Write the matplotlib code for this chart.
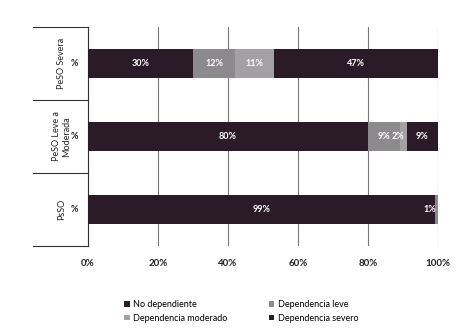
import matplotlib
matplotlib.use("Agg")
import matplotlib.pyplot as plt
import numpy as np

groups = ["PsSO", "PeSO Leve a\nModerada", "PeSO Severa"]
row_labels = ["%", "%", "%"]
series_names = ["No dependiente", "Dependencia leve", "Dependencia moderado", "Dependencia severo"]
no_dep = [99, 80, 30]
dep_leve = [1, 9, 12]
dep_mod = [0, 2, 11]
dep_sev = [0, 9, 47]
xticks = [0, 20, 40, 60, 80, 100]
xtick_labels = ["0%", "20%", "40%", "60%", "80%", "100%"]

colors = ["#2b1b29", "#8c8a8c", "#a3a1a3", "#2b1b29"]
plt.rcParams['font.family'] = ['Lato', 'DejaVu Sans']

fig = plt.figure(figsize=(4.65, 3.33), dpi=100)
ax = fig.add_axes([88/465, 1-246/333, 350/465, 219/333])

values = [no_dep, dep_leve, dep_mod, dep_sev]
y = np.arange(len(groups))
left = np.zeros(len(groups))
handles = []
for name, vals, c in zip(series_names, values, colors):
    vals = np.array(vals, dtype=float)
    h = ax.barh(y, vals, left=left, height=0.4, color=c, label=name, zorder=3)
    handles.append(h)
    for yi, (l, v) in enumerate(zip(left, vals)):
        if v > 0:
            ax.text(l + v/2 if v > 2 else l + v - 0.6, yi, f"{int(v)}%", ha="center" if v > 2 else "right",
                    va="center", color="white", fontsize=6.5, fontweight="bold", zorder=4)
    left += vals

ax.set_xlim(0, 100)
ax.set_ylim(-0.5, 2.5)
ax.set_xticks(xticks)
ax.set_xticklabels(xtick_labels, fontsize=7, fontweight="bold", color="#222222")
ax.tick_params(axis="x", length=0, pad=9)
ax.set_yticks([])
ax.grid(axis="x", color="#777777", linewidth=0.8, zorder=0)
for s in ["top", "right", "bottom"]:
    ax.spines[s].set_visible(False)
ax.spines["left"].set_color("#333333")
ax.spines["left"].set_linewidth(0.8)

# group labels and separators
for yi, (g, r) in enumerate(zip(groups, row_labels)):
    ax.text(-7.6, yi, g, rotation=90, ha="center", va="center", fontsize=6.5,
            transform=ax.transData, clip_on=False, color="#222222", linespacing=1.1)
    ax.text(-3.8, yi, r, ha="center", va="center", fontsize=6.5, fontweight="bold",
            clip_on=False, color="#222222")
for yb in [-0.5, 0.5, 1.5, 2.5]:
    ax.plot([-15.7, 0], [yb, yb], color="#333333", linewidth=0.8, clip_on=False)

# legend filled column-wise: reorder so rows read as in the reference
order = [0, 2, 1, 3]
leg = fig.legend([handles[i] for i in order], [series_names[i] for i in order],
                 loc="upper left", bbox_to_anchor=(116/465, 1-292/333),
                 ncol=2, frameon=False, fontsize=6.5, handlelength=0.6, handleheight=0.6,
                 handletextpad=0.4, columnspacing=4.6, labelspacing=0.5)
fig.savefig("out.png", dpi=100, facecolor="white")
